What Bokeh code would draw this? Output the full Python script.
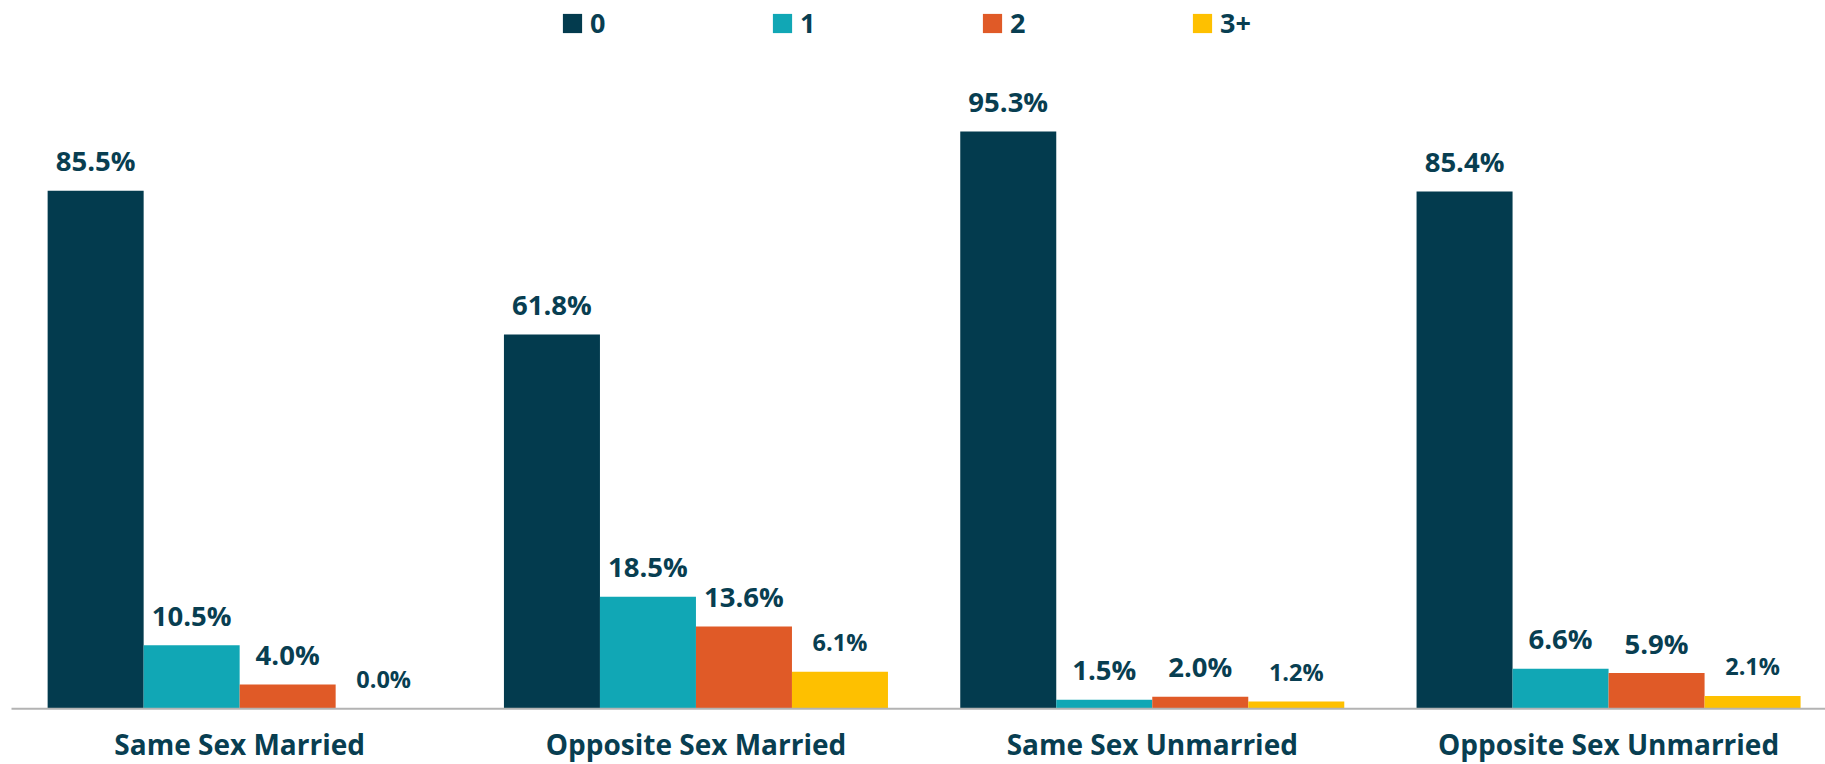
from bokeh.plotting import figure
from bokeh.models import ColumnDataSource, Range1d, Legend, LegendItem
from bokeh.core.properties import value
from bokeh.embed import file_html
from bokeh.resources import INLINE

categories = ["Same Sex Married", "Opposite Sex Married", "Same Sex Unmarried", "Opposite Sex Unmarried"]
series_names = ["0", "1", "2", "3+"]
values_0 = [85.5, 61.8, 95.3, 85.4]
values_1 = [10.5, 18.5, 1.5, 6.6]
values_2 = [4.0, 13.6, 2.0, 5.9]
values_3 = [0.0, 6.1, 1.2, 2.1]

series_values = [values_0, values_1, values_2, values_3]
colors = ["#033B4E", "#11A7B5", "#E05A27", "#FEC000"]
label_sizes = ["27.5px", "27.5px", "27.5px", "23.5px"]
text_color = "#083E51"

bar_w = 0.2104
centers = [i + 0.5 for i in range(len(categories))]

p = figure(width=1825, height=764,
           x_range=Range1d(-0.0241, 3.9754), y_range=Range1d(-9.194, 116.92),
           output_backend="svg", toolbar_location=None,
           x_axis_location=None, y_axis_location=None,
           min_border_left=0, min_border_right=0, min_border_top=0, min_border_bottom=0)
p.outline_line_color = None
p.xgrid.visible = False
p.ygrid.visible = False
p.background_fill_color = "white"
p.border_fill_color = "white"

items = []
for j, (name, vals, col, fs) in enumerate(zip(series_names, series_values, colors, label_sizes)):
    xs = [c + (j - 1.5) * bar_w for c in centers]
    src = ColumnDataSource(dict(x=xs, top=vals, label=[f"{v:.1f}%" for v in vals]))
    r = p.vbar(x="x", top="top", bottom=0, width=bar_w, source=src,
               fill_color=col, line_color=None)
    p.text(x="x", y="top", text="label", source=src,
           text_align="center", text_baseline="alphabetic", y_offset=-30,
           text_font=value("Open Sans"), text_font_style="bold",
           text_font_size=fs, text_color=text_color)
    items.append(LegendItem(label=name, renderers=[r]))

# baseline (category axis line)
p.segment(x0=[0], y0=[0], x1=[len(categories)], y1=[0], line_color="#B3B3B3", line_width=2)

# category labels
cat_src = ColumnDataSource(dict(x=centers, y=[0] * len(categories), label=categories))
p.text(x="x", y="y", text="label", source=cat_src,
       text_align="center", text_baseline="alphabetic", y_offset=35,
       text_font=value("Open Sans"), text_font_style="bold",
       text_font_size="28px", text_color=text_color)

legend = Legend(items=items, orientation="horizontal", location=(560, 723),
                glyph_width=24, glyph_height=24, label_standoff=6,
                label_width=160, spacing=20, padding=0, margin=0,
                border_line_color=None, background_fill_alpha=0,
                label_text_font="Open Sans", label_text_font_style="bold",
                label_text_font_size="27px", label_text_color=text_color)
p.add_layout(legend, "center")

open("out.html", "w").write(file_html(p, INLINE))
